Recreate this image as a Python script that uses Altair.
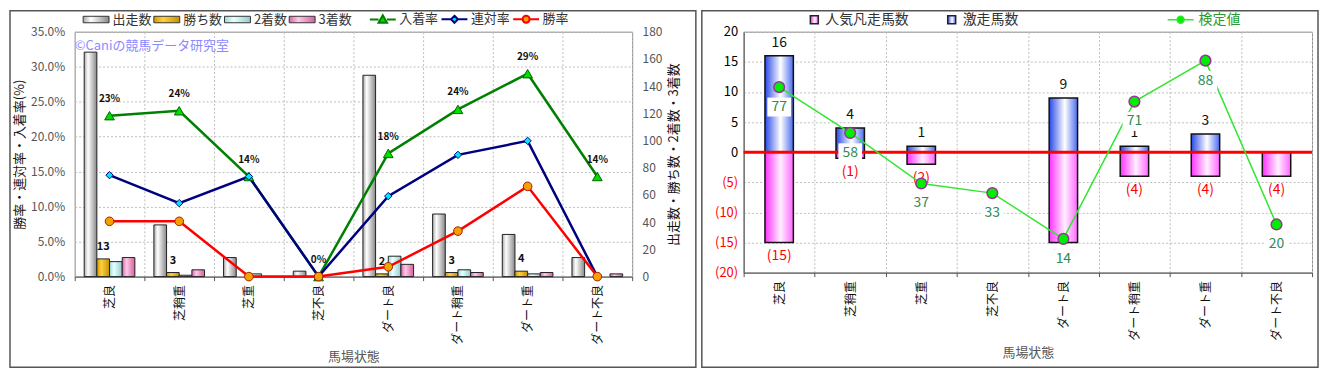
import altair as alt
import pandas as pd

# ---------------- data ----------------
CATEGORIES = ["芝良", "芝稍重", "芝重", "芝不良", "ダート良", "ダート稍重", "ダート重", "ダート不良"]

BAR_SERIES = ["出走数", "勝ち数", "2着数", "3着数"]
RUNS = [165, 38, 14, 4, 148, 46, 31, 14]
WINS = [13, 3, 0, 0, 2, 3, 4, 0]
SECONDS = [11, 1, 2, 0, 15, 5, 2, 0]
THIRDS = [14, 5, 0, 0, 9, 3, 3, 2]

RATE_SERIES = ["入着率", "連対率", "勝率"]
PLACE_RATE = [0.230, 0.237, 0.143, 0.0, 0.176, 0.239, 0.290, 0.143]
QUINELLA_RATE = [0.145, 0.105, 0.143, 0.0, 0.115, 0.174, 0.194, 0.0]
WIN_RATE = [0.079, 0.079, 0.0, 0.0, 0.014, 0.065, 0.129, 0.0]

TYPES = ["人気凡走馬数", "激走馬数"]
GEKISOU = [16, 4, 1, 0, 9, 1, 3, 0]
BONSOU = [-15, -1, -2, 0, -15, -4, -4, -4]
KENTEI = [77, 58, 37, 33, 14, 71, 88, 20]
KENTEI_NAME = "検定値"

WATERMARK = "©Caniの競馬データ研究室"
X_TITLE = "馬場状態"
RATE_TITLE = "勝率・連対率・入着率(%)"
COUNT_TITLE = "出走数・勝ち数・2着数・3着数"

FONT = "Noto Sans CJK JP"

# ---------------- tables ----------------
bar_rows = []
for i, c in enumerate(CATEGORIES):
    for s, arr in zip(BAR_SERIES, [RUNS, WINS, SECONDS, THIRDS]):
        bar_rows.append({"馬場状態": c, "系列": s, "値": arr[i]})
bar_df = pd.DataFrame(bar_rows)

rate_rows = []
for s, arr in zip(RATE_SERIES, [PLACE_RATE, QUINELLA_RATE, WIN_RATE]):
    for i, c in enumerate(CATEGORIES):
        rate_rows.append({"馬場状態": c, "指標": s, "率": arr[i]})
rate_df = pd.DataFrame(rate_rows)

right_rows = []
for i, c in enumerate(CATEGORIES):
    right_rows.append({"馬場状態": c, "種別": "人気凡走馬数", "値": BONSOU[i]})
    right_rows.append({"馬場状態": c, "種別": "激走馬数", "値": GEKISOU[i]})
right_df = pd.DataFrame(right_rows)

test_df = pd.DataFrame({"馬場状態": CATEGORIES, "検定値": KENTEI, "系列": [KENTEI_NAME] * len(CATEGORIES)})
zero_df = pd.DataFrame({"値": [0]})
one_df = pd.DataFrame({"t": [WATERMARK]})


def grad(c0, c1, c2, mid):
    return {"expr": "{gradient:'linear',x1:0,y1:0,x2:1,y2:0,stops:[{offset:0,color:'%s'},{offset:%s,color:'%s'},{offset:1,color:'%s'}]}" % (c0, mid, c1, c2)}


def x_enc():
    return alt.X(
        "馬場状態:N", sort=CATEGORIES,
        scale=alt.Scale(domain=CATEGORIES, paddingInner=0, paddingOuter=0),
        axis=alt.Axis(title=X_TITLE, labelAngle=270, labelFontSize=12, labelColor="#111",
                      labelPadding=4, titleColor="#555", titleFontSize=13, titleFontWeight="normal",
                      titlePadding=6, tickBand="extent", grid=True, ticks=True, tickSize=4,
                      domainColor="#555", tickColor="#555"),
    )


def frame(x0, x1, y0, y1):
    # decorative panel border drawn around the whole panel
    return alt.Chart(one_df).mark_rect(fill="transparent", stroke="#555", strokeWidth=1.5).encode(
        x=alt.value(x0), x2=alt.value(x1), y=alt.value(y0), y2=alt.value(y1)
    )


LEG_Y = -19
FRAME_TOP = -21
FRAME_BOTTOM = 337

# ---------------- left panel ----------------
bar_colors = [
    grad("#a8a8a8", "#ffffff", "#888888", 0.3),
    grad("#d49a00", "#ffd040", "#c89000", 0.35),
    grad("#9ad8d8", "#eaffff", "#90cccc", 0.35),
    grad("#d864a8", "#ffc8e6", "#d060a0", 0.35),
]

bar_legend = alt.Legend(orient="none", legendX=15, legendY=LEG_Y, direction="horizontal", title=None,
                        symbolType="M-2.6,-0.65H2.6V0.65H-2.6Z", symbolSize=100,
                        symbolStrokeColor="#333", symbolStrokeWidth=1,
                        labelFontSize=13, labelColor="#333", columnPadding=-1, labelOffset=10)

count_y = alt.Y("値:Q", scale=alt.Scale(domain=[0, 180]),
                axis=alt.Axis(orient="right", values=list(range(0, 181, 20)), grid=False,
                              title=COUNT_TITLE, titleAngle=270, titleBaseline="top",
                              titleFontSize=13, titleFontWeight="normal", titleColor="#111",
                              labelFontSize=12, labelColor="#555", ticks=False, labelPadding=10,
                              titlePadding=6, domain=False, labelOverlap=False))

x_off = alt.XOffset("系列:N", sort=BAR_SERIES,
                    scale=alt.Scale(domain=BAR_SERIES, paddingInner=0, paddingOuter=0.75))

bars = alt.Chart(bar_df).transform_filter("datum['値'] > 0").mark_bar(
    stroke="#222", strokeWidth=1
).encode(
    x=x_enc(), xOffset=x_off, y=count_y,
    color=alt.Color("系列:N", sort=BAR_SERIES,
                    scale=alt.Scale(domain=BAR_SERIES, range=bar_colors), legend=bar_legend),
)

win_labels = alt.Chart(bar_df).transform_filter(
    "datum['系列'] == '勝ち数' && datum['値'] > 0"
).mark_text(dy=-12, fontSize=11, fontWeight="bold", color="#111").encode(
    x=x_enc(), xOffset=x_off, y=count_y, text="値:Q"
)

bar_group = alt.layer(bars, win_labels)

LINE_COLORS = ["#008000", "#000080", "#ff0000"]
MARK_COLORS = ["#00dd00", "#00e5ff", "#f5a000"]
LEGEND_SHAPES = [
    "M-2.6,0H-0.85M0.85,0H2.6M0,-0.85L0.85,0.65L-0.85,0.65Z",
    "M-2.6,0H-0.7M0.7,0H2.6M0,-0.7L0.7,0L0,0.7L-0.7,0Z",
    "M-2.6,0H-0.7M0.7,0H2.6M0.7,0A0.7,0.7,0,1,1,-0.7,0A0.7,0.7,0,1,1,0.7,0Z",
]

rate_legend = alt.Legend(orient="none", legendX=303, legendY=LEG_Y, direction="horizontal", title=None,
                         symbolSize=100, symbolStrokeWidth=2, labelFontSize=13, labelColor="#333",
                         columnPadding=-2, labelOffset=10)

rate_y = alt.Y("率:Q", scale=alt.Scale(domain=[0, 0.35]),
               axis=alt.Axis(orient="left", format=".1%",
                             values=[0, 0.05, 0.1, 0.15, 0.2, 0.25, 0.3, 0.35], grid=True,
                             title=RATE_TITLE, titleFontSize=13, titleFontWeight="normal",
                             titleColor="#111", labelFontSize=12, labelColor="#555",
                             ticks=False, labelPadding=10, titlePadding=4, domain=False,
                             labelOverlap=False))


def rate_line(name, color):
    return alt.Chart(rate_df).transform_filter(f"datum['指標'] == '{name}'").mark_line(
        strokeWidth=2.5, color=color
    ).encode(x=x_enc(), y=rate_y)


line_place = rate_line("入着率", LINE_COLORS[0])
line_quin = rate_line("連対率", LINE_COLORS[1])
line_win = rate_line("勝率", LINE_COLORS[2])

pt_tri = alt.Chart(rate_df).transform_filter("datum['指標'] == '入着率'").mark_point(
    shape="triangle-up", filled=True, size=95, fill="#00dd00", stroke="#006400", strokeWidth=1, opacity=1
).encode(x=x_enc(), y=rate_y)
pt_dia = alt.Chart(rate_df).transform_filter("datum['指標'] == '連対率'").mark_point(
    shape="diamond", filled=True, size=55, fill="#00e5ff", stroke="#000080", strokeWidth=1, opacity=1
).encode(x=x_enc(), y=rate_y)
pt_cir = alt.Chart(rate_df).transform_filter("datum['指標'] == '勝率'").mark_point(
    shape="circle", filled=True, size=75, fill="#f5a000", stroke="#a02000", strokeWidth=1, opacity=1
).encode(x=x_enc(), y=rate_y)

place_labels = alt.Chart(rate_df).transform_filter("datum['指標'] == '入着率'").mark_text(
    dy=-17, fontSize=10, fontWeight="bold", color="#111"
).encode(x=x_enc(), y=rate_y, text=alt.Text("率:Q", format=".0%"))

rate_legend_src = alt.Chart(rate_df).transform_filter("false").mark_point(
    filled=True, size=100, strokeWidth=2, opacity=1
).encode(
    stroke=alt.Stroke("指標:N", sort=RATE_SERIES, scale=alt.Scale(domain=RATE_SERIES, range=LINE_COLORS), legend=rate_legend),
    fill=alt.Fill("指標:N", sort=RATE_SERIES, scale=alt.Scale(domain=RATE_SERIES, range=MARK_COLORS), legend=rate_legend),
    shape=alt.Shape("指標:N", sort=RATE_SERIES, scale=alt.Scale(domain=RATE_SERIES, range=LEGEND_SHAPES), legend=rate_legend),
)

rate_group = alt.layer(line_place, line_quin, line_win, pt_tri, pt_dia, pt_cir, place_labels, rate_legend_src)

watermark = alt.Chart(one_df).mark_text(
    align="left", baseline="middle", fontSize=13, color="#8a8aff"
).encode(x=alt.value(0), y=alt.value(14), text="t:N")

left = alt.layer(bar_group, rate_group, watermark, frame(-65, 624, FRAME_TOP, FRAME_BOTTOM)).resolve_scale(
    y="independent"
).properties(width=560, height=246)

# ---------------- right panel ----------------
type_colors = [
    grad("#ff30ff", "#fff0ff", "#ff66ff", 0.55),
    grad("#2848e8", "#ffffff", "#4a6af0", 0.55),
]
type_legend = alt.Legend(orient="none", legendX=64, legendY=LEG_Y, direction="horizontal", title=None,
                         symbolType="square", symbolSize=64, symbolStrokeColor="#222",
                         symbolStrokeWidth=1.5, labelFontSize=14, labelColor="#333",
                         columnPadding=36, labelOffset=4)

r_axis = alt.Axis(values=list(range(-20, 21, 5)),
                  labelExpr="datum.value < 0 ? '(' + abs(datum.value) + ')' : datum.label",
                  labelColor={"condition": {"test": "datum.value < 0", "value": "#ff0000"}, "value": "#000000"},
                  labelFontSize=13, title=None, grid=True, ticks=False, labelPadding=6,
                  domainColor="#555", labelOverlap=False)
r_y = alt.Y("値:Q", scale=alt.Scale(domain=[-20, 20]), axis=r_axis)

r_bars = alt.Chart(right_df).transform_filter("datum['値'] != 0").mark_bar(
    stroke="#111", strokeWidth=1.5, width=alt.RelativeBandSize(0.4)
).encode(
    x=x_enc(), y=r_y,
    color=alt.Color("種別:N", sort=TYPES, scale=alt.Scale(domain=TYPES, range=type_colors), legend=type_legend),
)

zero_rule = alt.Chart(zero_df).mark_rule(color="#ff0000", strokeWidth=3).encode(y=r_y)

pos_lbl = alt.Chart(right_df).transform_filter(
    "datum['種別'] == '激走馬数' && datum['値'] > 0"
).mark_text(dy=-13, fontSize=14, color="#111").encode(x=x_enc(), y=r_y, text="値:Q")

neg_lbl = alt.Chart(right_df).transform_filter(
    "datum['種別'] == '人気凡走馬数' && datum['値'] < 0"
).transform_calculate(表示="'(' + abs(datum['値']) + ')'").mark_text(
    dy=14, fontSize=14, color="#ff0000"
).encode(x=x_enc(), y=r_y, text="表示:N")

main_group = alt.layer(r_bars, zero_rule, pos_lbl, neg_lbl)

t_y = alt.Y("検定値:Q", scale=alt.Scale(domain=[0, 100]), axis=None)

t_line = alt.Chart(test_df).mark_line(color="#33e633", strokeWidth=1.5).encode(x=x_enc(), y=t_y)
t_pts = alt.Chart(test_df).mark_point(
    shape="circle", filled=True, size=115, fill="#00ee00", stroke="#993399", strokeWidth=1.5, opacity=1
).encode(x=x_enc(), y=t_y)
t_box = alt.Chart(test_df).mark_point(
    shape="M-1.25,-1H1.25V1H-1.25Z", filled=True, size=361, fill="#ffffff", strokeWidth=0, opacity=1, yOffset=20
).encode(x=x_enc(), y=t_y)
t_txt = alt.Chart(test_df).mark_text(dy=20, fontSize=14, color="#2e8b57").encode(
    x=x_enc(), y=t_y, text="検定値:Q"
)

test_legend = alt.Legend(orient="none", legendX=432, legendY=LEG_Y, direction="horizontal", title=None,
                         symbolSize=100, symbolStrokeWidth=1.5, labelFontSize=14,
                         labelColor="#2a9a2a", labelOffset=11)
t_legend_src = alt.Chart(test_df).transform_filter("false").mark_point(
    filled=True, size=100, strokeWidth=1.5, opacity=1
).encode(
    stroke=alt.Stroke("系列:N", scale=alt.Scale(domain=[KENTEI_NAME], range=["#33e633"]), legend=test_legend),
    fill=alt.Fill("系列:N", scale=alt.Scale(domain=[KENTEI_NAME], range=["#00ee00"]), legend=test_legend),
    shape=alt.Shape("系列:N", scale=alt.Scale(domain=[KENTEI_NAME], range=[LEGEND_SHAPES[2]]), legend=test_legend),
)

test_group = alt.layer(t_line, t_pts, t_box, t_txt, t_legend_src)

right = alt.layer(main_group, test_group, frame(-42, 577, FRAME_TOP, FRAME_BOTTOM)).resolve_scale(
    y="independent"
).properties(width=571, height=242)

chart = alt.hconcat(left, right, spacing=2).resolve_scale(
    color="independent", fill="independent", stroke="independent", shape="independent"
).properties(
    padding={"left": 0, "top": 0, "right": 0, "bottom": 0}
).configure(font=FONT).configure_view(
    fill="#f8eed8", stroke="#8a8a8a"
).configure_axis(
    gridDash=[2, 2], gridColor="#bdbdbd", labelFont=FONT, titleFont=FONT
).configure_legend(labelFont=FONT)

chart.save("out.html", embed_options={"renderer": "svg", "actions": False})
